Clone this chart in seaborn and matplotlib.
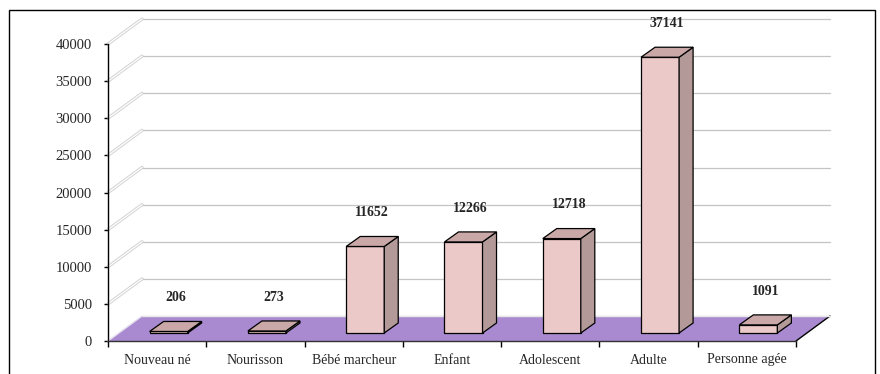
import matplotlib
matplotlib.use("Agg")
import matplotlib.pyplot as plt
from matplotlib.patches import Polygon, Rectangle
from matplotlib.lines import Line2D
import seaborn as sns
import numpy as np

# Data
categories = ["Nouveau né", "Nourisson", "Bébé marcheur", "Enfant",
              "Adolescent", "Adulte", "Personne agée"]
values = [206, 273, 11652, 12266, 12718, 37141, 1091]
y_ticks = [0, 5000, 10000, 15000, 20000, 25000, 30000, 35000, 40000]

sns.set_style("white")
plt.rcParams["font.family"] = ["Liberation Serif", "DejaVu Serif"]

W, H, DPI = 880, 374, 100
fig = plt.figure(figsize=(W / DPI, H / DPI), dpi=DPI)

# front plane of the pseudo-3D box, in pixels
left_px, right_px, base_px, top_px = 108, 796, 341, 44
ax = fig.add_axes([left_px / W, (H - base_px) / H,
                   (right_px - left_px) / W, (base_px - top_px) / H])
x_lo, x_hi = -0.5, len(categories) - 0.5
y_lo, y_hi = 0, 40000

# pixel -> data conversion factors
px_x = (x_hi - x_lo) / (right_px - left_px)
px_y = (y_hi - y_lo) / (base_px - top_px)

depth_x, depth_y = 34 * px_x, 25 * px_y        # floor depth
shift_x, shift_y = 11.5 * px_x, 8 * px_y       # bar front plane
bar_dx, bar_dy = 14 * px_x, 10 * px_y          # bar depth

front_c = "#EBC9C9"
top_c = "#C9A8A7"
side_c = "#B39A99"
floor_c = "#A98AD0"
grid_c = "#C4C4C4"

# front faces of the bars
sns.barplot(x=categories, y=values, ax=ax, color=front_c, saturation=1,
            width=0.387, edgecolor="black", linewidth=0.9, errorbar=None, zorder=3)
bars = [p for p in ax.patches if isinstance(p, Rectangle)]

ax.set_xlim(x_lo, x_hi)
ax.set_ylim(y_lo, y_hi)

# back wall gridlines and left wall lines
for v in y_ticks:
    ax.add_line(Line2D([x_lo + depth_x, x_hi + depth_x], [v + depth_y, v + depth_y],
                       color=grid_c, lw=0.9, clip_on=False, zorder=0.5))
    if v > 0:
        ax.add_line(Line2D([x_lo, x_lo + depth_x], [v, v + depth_y],
                           color="#D2D2D2", lw=2.3, clip_on=False, zorder=0.5))
        ax.add_line(Line2D([x_lo, x_lo + depth_x], [v, v + depth_y],
                           color="white", lw=0.9, clip_on=False, zorder=0.55))

# floor
floor = Polygon([(x_lo, 0), (x_hi, 0), (x_hi + depth_x, depth_y), (x_lo + depth_x, depth_y)],
                closed=True, facecolor=floor_c, edgecolor="none", clip_on=False, zorder=0.8)
ax.add_patch(floor)
ax.add_line(Line2D([x_hi, x_hi + depth_x], [0, depth_y], color="black", lw=1.0,
                   clip_on=False, zorder=0.9))
ax.add_line(Line2D([x_lo, x_lo + depth_x], [0, depth_y], color="#E6E0F0", lw=1.0,
                   clip_on=False, zorder=0.9))
ax.add_line(Line2D([x_lo + depth_x, x_hi + depth_x], [depth_y, depth_y], color="#E8E8E8",
                   lw=1.0, clip_on=False, zorder=0.9))

for patch, v in zip(bars, values):
    patch.set_x(patch.get_x() + shift_x)
    patch.set_y(shift_y)
    x0 = patch.get_x()
    x1 = x0 + patch.get_width()
    b = shift_y
    t = b + patch.get_height()
    top = Polygon([(x0, t), (x1, t), (x1 + bar_dx, t + bar_dy), (x0 + bar_dx, t + bar_dy)],
                  closed=True, facecolor=top_c, edgecolor="black", lw=0.9, zorder=3.2)
    side = Polygon([(x1, b), (x1 + bar_dx, b + bar_dy), (x1 + bar_dx, t + bar_dy), (x1, t)],
                   closed=True, facecolor=side_c, edgecolor="black", lw=0.9, zorder=3.1)
    ax.add_patch(side)
    ax.add_patch(top)
    ax.annotate(f"{v}", xy=((x0 + x1) / 2 + bar_dx / 2, t + bar_dy),
                xytext=(0, 17), textcoords="offset points", ha="center", va="center",
                fontsize=10, fontweight="bold", annotation_clip=False, zorder=5)

# axes styling
for s in ["top", "right"]:
    ax.spines[s].set_visible(False)
ax.spines["left"].set_color("black")
ax.spines["left"].set_linewidth(1.0)
ax.spines["bottom"].set_color("#333333")
ax.spines["bottom"].set_linewidth(1.0)
ax.spines["left"].set_zorder(4)
ax.spines["bottom"].set_zorder(4)
ax.set_facecolor("none")

ax.set_yticks(y_ticks)
ax.set_yticklabels([str(v) for v in y_ticks])
ax.tick_params(axis="y", direction="out", length=3, width=1.0, color="black",
               pad=8.5, labelsize=10.5, left=True)

ax.set_xticks(range(len(categories)))
ax.set_xticklabels(categories)
ax.set_xticks(np.arange(len(categories) + 1) - 0.5, minor=True)
ax.tick_params(axis="x", which="major", length=0, pad=9, labelsize=10)
ax.tick_params(axis="x", which="minor", direction="out", length=4, width=1.0,
               color="black", bottom=True)
ax.set_xlabel("")
ax.set_ylabel("")
ax.grid(False)

# outer frame of the chart area
fig.add_artist(Rectangle((9 / W, -0.05), (875 - 9) / W, (H - 10) / H + 0.05,
                         transform=fig.transFigure, fill=False, edgecolor="black", lw=1.0))

fig.savefig("out.png", dpi=DPI, facecolor="white")
